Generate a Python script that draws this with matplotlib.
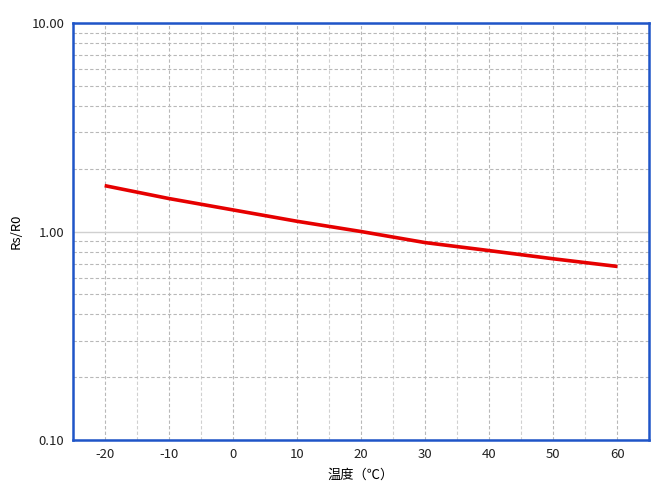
import matplotlib
matplotlib.use("Agg")
import matplotlib.pyplot as plt
from matplotlib.ticker import FixedLocator, FixedFormatter, LogLocator, NullFormatter

plt.rcParams['font.family'] = ['Noto Sans CJK SC', 'DejaVu Sans']
plt.rcParams['axes.unicode_minus'] = False

temps = [-20, -10, 0, 10, 20, 30, 40, 50, 60]
ratio = [1.66, 1.44, 1.27, 1.12, 1.00, 0.885, 0.81, 0.74, 0.68]
xticks = [-20, -10, 0, 10, 20, 30, 40, 50, 60]
yticks = [0.1, 1.0, 10.0]
ytick_labels = ["0.10", "1.00", "10.00"]

fig = plt.figure(figsize=(6.6, 4.9), dpi=100)
ax = fig.add_axes([0.110, 0.102, 0.874, 0.851])

ax.set_yscale('log')
ax.set_xlim(-25, 65)
ax.set_ylim(0.1, 10)

ax.plot(temps, ratio, color='#e60000', lw=2.6, solid_capstyle='butt', zorder=3)

ax.set_xticks(xticks)
ax.set_xticks(list(range(-25, 66, 5)), minor=True)
ax.yaxis.set_major_locator(FixedLocator(yticks))
ax.yaxis.set_major_formatter(FixedFormatter(ytick_labels))
ax.yaxis.set_minor_locator(LogLocator(base=10, subs=range(2, 10)))
ax.yaxis.set_minor_formatter(NullFormatter())

ax.grid(which='major', axis='x', color='#b8b8b8', ls=(0, (3, 2)), lw=0.8)
ax.grid(which='minor', axis='x', color='#d0d0d0', ls=(0, (3, 2)), lw=0.8)
ax.grid(which='minor', axis='y', color='#b8b8b8', ls=(0, (3, 2)), lw=0.8)
ax.grid(which='major', axis='y', color='#d0d0d0', ls='-', lw=1.0)

ax.tick_params(which='both', length=0, labelsize=9.5, colors='#222222')
ax.tick_params(axis='x', pad=6)
ax.tick_params(axis='y', pad=6)

for s in ax.spines.values():
    s.set_color('#1f55c8')
    s.set_linewidth(1.8)

ax.set_xlabel('温度（℃）', fontsize=9.5, labelpad=5)
ax.set_ylabel('Rs/R0', fontsize=9.5, labelpad=6)

fig.savefig('out.png', dpi=100)
